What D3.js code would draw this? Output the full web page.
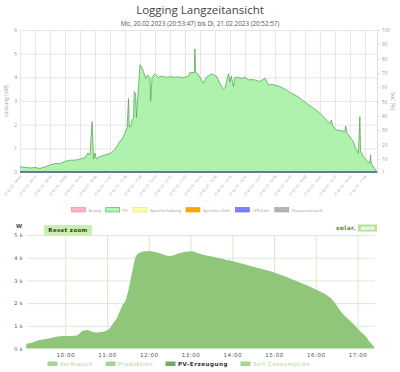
<!DOCTYPE html>
<html>
<head>
<meta charset="utf-8">
<script src="https://cdn.jsdelivr.net/npm/d3@7"></script>
<style>
  body { margin: 0; background: #fff; }
  svg { display: block; }
</style>
</head>
<body>
<svg id="chart" width="400" height="372"></svg>
<script>
// ---------- data: top chart (Logging Langzeitansicht, PV in kW)
const pvTimes = ['09:01','09:08','09:15','09:22','09:29','09:36','09:43','09:50','09:57','10:04',
  '10:11','10:18','10:25','10:32','10:36','10:39','10:42','10:44','10:46','10:48','10:50','10:53',
  '10:56','11:03','11:07','11:10','11:14','11:18','11:21','11:24','11:28','11:31','11:33','11:34',
  '11:36','11:38','11:40','11:41','11:43','11:44','11:47','11:49','11:51','11:54','11:57','12:00',
  '12:03','12:04','12:06','12:10','12:15','12:20','12:26','12:32','12:38','12:44','12:49','12:57',
  '12:59','13:05','13:06','13:07','13:10','13:13','13:18','13:22','13:29','13:36','13:41','13:46',
  '13:48','13:53','13:55','13:57','14:00','14:02','14:07','14:11','14:16','14:21','14:29','14:37',
  '14:44','14:49','14:56','15:05','15:14','15:21','15:26','15:33','15:42','15:52','16:01','16:10',
  '16:15','16:17','16:19','16:24','16:30','16:36','16:37','16:39','16:41','16:48','16:51','16:55',
  '16:57','16:58','17:02','17:06','17:11','17:12','17:13','17:16','17:20'];
const pvKw = [0.22,0.2,0.17,0.19,0.15,0.22,0.3,0.36,0.35,0.45,
  0.5,0.5,0.55,0.6,0.8,0.72,2.13,0.55,0.8,0.55,0.6,0.65,
  0.68,0.75,0.78,0.85,0.95,1.14,1.3,1.38,1.65,1.86,3.1,1.9,
  1.92,2.2,2.3,3.4,3.3,2.3,3.61,4.53,4.45,4.25,3.95,4.1,
  3.95,3.0,4.0,4.15,4.0,4.05,4.0,4.03,4.0,4.02,3.98,4.05,
  4.2,4.2,5.2,4.2,4.15,4.0,3.75,4.0,4.15,4.05,3.75,3.5,
  3.55,4.15,3.8,4.05,3.6,4.0,4.0,3.95,4.0,3.9,3.9,3.82,
  3.97,3.69,3.69,3.61,3.47,3.33,3.26,3.12,2.91,2.7,2.49,2.2,
  2.05,2.2,1.95,1.78,1.75,1.71,1.95,1.65,1.57,1.28,1.0,0.79,
  2.34,0.9,0.65,0.51,0.37,0.72,0.35,0.22,0.05];
const topTickTimes = ['09:01','09:22','09:43','10:04','10:25','10:46','11:07','11:28','11:49','12:10',
  '12:31','12:52','13:13','13:34','13:55','14:16','14:37','14:58','15:19','15:40','16:01','16:22',
  '16:43','17:04'];
const kwTicks = [0, 1, 2, 3, 4, 5, 6];
const socTicks = [1, 10, 20, 30, 40, 50, 60, 70, 80, 90, 100];
const topLegend = ['Bezug', 'PV', 'Speicherladung', 'Speicher-Entl.', 'LPS-Entl.', 'Hausverbrauch'];
const topLegendFill = ['#ffb3bf', '#b3f5b3', '#ffffa8', '#ffa500', '#8080ff', '#b3b3b3'];
const topLegendStroke = ['#f08090', '#4caf50', '#e0e080', '#f0a000', '#6060f0', '#a0a0a0'];

// ---------- data: bottom chart (solar.web, W)
const prodTimes = ['09:04','09:13','09:23','09:33','09:42','09:56','10:10','10:16','10:21','10:25',
  '10:31','10:35','10:39','10:45','10:49','10:54','10:59','11:04','11:08','11:14','11:18','11:22',
  '11:27','11:32','11:37','11:42','11:52','12:00','12:15','12:30','12:44','13:01','13:13','13:30',
  '13:42','14:00','14:30','15:00','15:30','16:00','16:24','16:38','16:53','17:02','17:12','17:19','17:24'];
const prodW = [210,260,370,420,480,550,550,570,670,780,
  810,780,740,710,720,740,780,890,1080,1330,1620,1910,
  2140,2750,3500,4100,4270,4300,4200,4080,4200,4280,4170,4050,
  3980,3850,3600,3350,3000,2600,2140,1550,1110,810,520,230,80];
const hourTicks = ['10:00','11:00','12:00','13:00','14:00','15:00','16:00','17:00'];
const wTicks = [0, 1000, 2000, 3000, 4000, 5000];
const bottomLegend = ['Verbrauch', 'Produktion', 'PV-Erzeugung', 'Self Consumption'];
const bottomLegendFill = ['#a6d491', '#a6d491', '#6fae5c', '#a6d491'];
const bottomLegendText = ['#a6d491', '#a6d491', '#333', '#a6d491'];

const parseTime = d3.timeParse('%H:%M');
const fmtTime = d3.timeFormat('%H:%M');
const svg = d3.select('#chart');

// ================= top chart =================
const title = svg.append('g');
title.append('text').attr('x', 200).attr('y', 14).attr('text-anchor', 'middle')
  .style('font', '11.5px "Open Sans", sans-serif').style('fill', '#444')
  .text('Logging Langzeitansicht');
title.append('text').attr('x', 200).attr('y', 25.5).attr('text-anchor', 'middle')
  .style('font', '6.3px "Open Sans", sans-serif').style('fill', '#555')
  .text('Mo, 20.02.2023 (20:53:47) bis Di, 21.02.2023 (20:52:57)');

const x = d3.scaleTime().domain([parseTime('09:01'), parseTime('17:21')]).range([20, 377]);
const y = d3.scaleLinear().domain([0, 6]).range([172, 30]);
const ySoc = d3.scaleLinear().domain([1, 100]).range([172, 30]);

const gTop = svg.append('g');

// horizontal grid + left axis
const yAxis = gTop.append('g').attr('transform', 'translate(20,0)')
  .call(d3.axisLeft(y).tickValues(kwTicks).tickSize(-357).tickPadding(3).tickFormat(d3.format('d')));
yAxis.select('.domain').attr('stroke', '#d8d8d8');
yAxis.selectAll('.tick line').attr('stroke', '#e6e6e6');
yAxis.selectAll('.tick text').style('font', '5px "Open Sans", sans-serif').attr('fill', '#999');

// right SoC axis
const socAxis = gTop.append('g').attr('transform', 'translate(377,0)')
  .call(d3.axisRight(ySoc).tickValues(socTicks).tickSize(3).tickPadding(2).tickFormat(d3.format('d')));
socAxis.select('.domain').attr('stroke', '#e0e0e0');
socAxis.selectAll('.tick line').attr('stroke', '#e0e0e0');
socAxis.selectAll('.tick text').style('font', '4.6px "Open Sans", sans-serif').attr('fill', '#999');

// vertical grid + rotated time labels
const xAxis = gTop.append('g').attr('transform', 'translate(0,172)')
  .call(d3.axisBottom(x).tickValues(topTickTimes.map(parseTime)).tickSize(-142)
    .tickFormat(d => '21.02.23 - ' + fmtTime(d)));
xAxis.select('.domain').remove();
xAxis.selectAll('.tick line').attr('stroke', '#e6e6e6');
xAxis.selectAll('.tick text')
  .attr('x', 0).attr('y', 0).attr('dy', 0)
  .attr('text-anchor', 'end')
  .attr('transform', 'translate(1.5,4.5) rotate(-50)')
  .style('font', '3.5px "Open Sans", sans-serif').attr('fill', '#999');

// axis titles
gTop.append('text').attr('transform', 'translate(8,101) rotate(-90)').attr('text-anchor', 'middle')
  .style('font', '5px "Open Sans", sans-serif').attr('fill', '#999').text('Leistung [kW]');
gTop.append('text').attr('transform', 'translate(391,101) rotate(90)').attr('text-anchor', 'middle')
  .style('font', '5px "Open Sans", sans-serif').attr('fill', '#999').text('SoC [%]');

// PV area
const pvData = pvTimes.map((t, i) => ({ t: parseTime(t), v: pvKw[i] }));
gTop.append('path').datum(pvData)
  .attr('fill', '#aef2ae')
  .attr('d', d3.area().x(d => x(d.t)).y0(y(0)).y1(d => y(d.v)));
gTop.append('path').datum(pvData)
  .attr('fill', 'none').attr('stroke', '#4a9e4a').attr('stroke-width', 0.7)
  .attr('d', d3.line().x(d => x(d.t)).y(d => y(d.v)));

// baseline series at zero
gTop.append('line').attr('x1', x.range()[0]).attr('x2', x.range()[1])
  .attr('y1', y(0)).attr('y2', y(0))
  .attr('stroke', '#3b5a78').attr('stroke-width', 1.3);

// top legend
const tl = gTop.append('g').attr('transform', 'translate(0,207.5)');
const items = tl.selectAll('g').data(topLegend).join('g');
items.append('rect').attr('width', 14).attr('height', 4.5)
  .attr('fill', (d, i) => topLegendFill[i]).attr('stroke', (d, i) => topLegendStroke[i]).attr('stroke-width', 0.6);
items.append('text').attr('x', 17).attr('y', 4)
  .style('font', '4.3px "Open Sans", sans-serif').attr('fill', '#999').text(d => d);
const widths = [];
items.each(function () {
  widths.push(17 + this.querySelector('text').getComputedTextLength());
});
const total = d3.sum(widths) + 5 * (widths.length - 1);
let pos = 197 - total / 2;
items.each(function (d, i) {
  d3.select(this).attr('transform', `translate(${pos},0)`);
  pos += widths[i] + 5;
});

// ================= bottom chart =================
const xb = d3.scaleTime().domain([parseTime('09:05'), parseTime('17:25')]).range([27, 375]);
const yb = d3.scaleLinear().domain([0, 5000]).range([348.5, 235]);
const gBot = svg.append('g');

const ybAxis = gBot.append('g').attr('transform', 'translate(27,0)')
  .call(d3.axisLeft(yb).tickValues(wTicks).tickSize(-348).tickPadding(4)
    .tickFormat(d => (d / 1000) + ' k'));
ybAxis.select('.domain').remove();
ybAxis.selectAll('.tick line').attr('stroke', d => d === 0 ? 'none' : '#d3e6c8').attr('stroke-width', 0.8);
ybAxis.selectAll('.tick text').style('font', '5px "DejaVu Sans", sans-serif').attr('fill', '#555')
  .style('letter-spacing', '0.4px');

const xbAxis = gBot.append('g').attr('transform', 'translate(0,348.5)')
  .call(d3.axisBottom(xb).tickValues(hourTicks.map(parseTime)).tickSize(-113.5).tickPadding(5)
    .tickFormat(fmtTime));
xbAxis.select('.domain').remove();
xbAxis.selectAll('.tick line').attr('stroke', '#cfe3c2').attr('stroke-width', 0.8);
xbAxis.selectAll('.tick text').style('font', '5.6px "DejaVu Sans", sans-serif').attr('fill', '#555')
  .style('letter-spacing', '0.5px');

const prodData = prodTimes.map((t, i) => ({ t: parseTime(t), v: prodW[i] }));
gBot.append('path').datum(prodData)
  .attr('fill', '#8fc67a')
  .attr('d', d3.area().curve(d3.curveMonotoneX).x(d => xb(d.t)).y0(yb(0)).y1(d => yb(d.v)));

gBot.append('text').attr('x', 16).attr('y', 228)
  .style('font', 'bold 5.5px "DejaVu Sans", sans-serif').attr('fill', '#444').text('W');

// reset zoom button
const btn = gBot.append('g').attr('transform', 'translate(44,225)');
btn.append('rect').attr('width', 48).attr('height', 10.5).attr('rx', 2)
  .attr('fill', '#c9efad');
btn.append('text').attr('x', 24).attr('y', 7.3).attr('text-anchor', 'middle')
  .style('font', 'bold 5.4px "DejaVu Sans", sans-serif').style('letter-spacing', '0.4px')
  .attr('fill', '#333').text('Reset zoom');

// solar.web logo
const logo = gBot.append('g').attr('transform', 'translate(336,230)');
logo.append('text').attr('x', 0).attr('y', 0)
  .style('font', 'bold 6px "DejaVu Sans", sans-serif').style('letter-spacing', '0.3px')
  .attr('fill', '#5d8a45').text('solar.');
logo.append('rect').attr('x', 22).attr('y', -5.5).attr('width', 19).attr('height', 7)
  .attr('fill', '#b6e29a');
logo.append('text').attr('x', 31.5).attr('y', 0).attr('text-anchor', 'middle')
  .style('font', 'bold 6px "DejaVu Sans", sans-serif').attr('fill', '#fff').text('web');

// bottom legend
const bl = gBot.append('g').attr('transform', 'translate(0,361.5)');
const bItems = bl.selectAll('g').data(bottomLegend).join('g');
bItems.append('rect').attr('width', 10).attr('height', 4.5).attr('fill', (d, i) => bottomLegendFill[i]);
bItems.append('text').attr('x', 12.5).attr('y', 4.6)
  .style('font', '5.6px "DejaVu Sans", sans-serif').style('letter-spacing', '0.5px')
  .attr('fill', (d, i) => bottomLegendText[i])
  .style('font-weight', (d, i) => i === 2 ? 'bold' : 'normal')
  .text(d => d);
let bpos = 47.5;
bItems.each(function () {
  d3.select(this).attr('transform', `translate(${bpos},0)`);
  bpos += 12.5 + this.querySelector('text').getComputedTextLength() + 12.5;
});
</script>
</body>
</html>
